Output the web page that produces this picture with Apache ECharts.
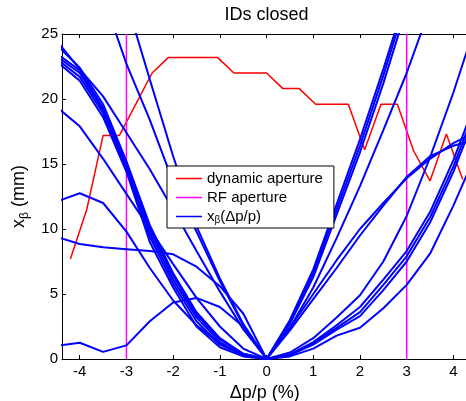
<!DOCTYPE html>
<html lang="en">
<head>
<meta charset="UTF-8">
<title>IDs closed</title>
<style>
    html, body {
        margin: 0;
        padding: 0;
        background: #fff;
    }
    #container {
        width: 466px;
        height: 401px;
    }
</style>
<script src="https://cdn.jsdelivr.net/npm/echarts@6/dist/echarts.min.js"></script>
</head>
<body>
<div id="container"></div>
<script type="text/javascript">
    // momentum deviation grids (%)
    var dpLeft = [-4.5, -4, -3.5, -3, -2.5, -2, -1.5, -1, -0.5, 0];
    var dpRight = [0, 0.5, 1, 1.5, 2, 2.5, 3, 3.5, 4, 4.5];

    // x_beta(dp/p) branches, negative side (mm)
    var leftG   = [24.5, 22.3, 20.2, 17.4, 14.6, 11.5, 8.3, 5.2, 2.3, 0];
    var leftU1  = [24.2, 22.4, 19.6, 15.2, 10.3, 6.6, 3.6, 1.6, 0.4, 0];
    var leftU2  = [23.5, 22.2, 19.3, 15.0, 10.0, 6.4, 3.4, 1.5, 0.4, 0];
    var leftU3  = [23.3, 22.0, 19.1, 14.8, 9.7, 6.1, 3.2, 1.3, 0.3, 0];
    var leftU4  = [23.1, 21.7, 18.9, 14.6, 9.4, 5.8, 2.9, 1.1, 0.3, 0];
    var leftU5  = [22.9, 21.4, 18.6, 14.4, 9.0, 5.5, 2.5, 0.9, 0.2, 0];
    var leftL1  = [38, 33, 27.9, 22.7, 18.4, 13.6, 9.8, 6.0, 2.6, 0];
    var leftL2  = [45, 39, 33, 27.5, 21.5, 15.6, 10.2, 6.2, 2.7, 0];
    var left19  = [19.4, 17.9, 15.4, 12.7, 10.0, 7.3, 4.7, 2.5, 0.8, 0];
    var left12  = [12.1, 12.75, 12.0, 9.8, 7.0, 4.5, 2.6, 1.2, 0.3, 0];
    var left9   = [9.4, 8.85, 8.6, 8.45, 8.3, 8.05, 7.1, 5.6, 3.5, 0];
    var leftLow = [1.0, 1.25, 0.55, 1.05, 2.9, 4.35, 4.7, 4.0, 2.5, 0];

    // x_beta(dp/p) branches, positive side (mm)
    var rightRa = [0, 3.0, 6.9, 11.9, 16.9, 22.3, 28.0, 34, 40, 46];
    var rightRb = [0, 2.9, 6.6, 11.5, 16.4, 21.8, 27.6, 33.5, 39.5, 45];
    var rightRc = [0, 2.7, 6.3, 11.1, 15.9, 21.2, 27.0, 33, 39, 44];
    var rightF  = [0, 2.4, 5.5, 9.3, 13.3, 17.6, 22.0, 27, 32, 37];
    var rightB1 = [0, 2.4, 5.0, 7.6, 10.0, 12.0, 13.9, 15.4, 16.6, 17.5];
    var rightB2 = [0, 2.2, 4.6, 7.0, 9.5, 11.8, 14.0, 15.6, 16.4, 16.9];
    var rightC  = [0, 0.5, 1.6, 3.2, 4.9, 7.5, 11.0, 15.5, 20.5, 26];
    var rightD1 = [0, 0.35, 1.3, 2.6, 4.0, 6.1, 8.3, 11.3, 15.3, 20];
    var rightD2 = [0, 0.3, 1.2, 2.4, 3.6, 5.7, 7.9, 10.9, 14.8, 19.5];
    var rightD3 = [0, 0.3, 1.1, 2.25, 3.3, 5.3, 7.5, 10.5, 14.4, 19.0];
    var rightE  = [0, 0.2, 0.8, 1.8, 2.4, 3.9, 5.7, 8.1, 11.8, 15.9];

    var leftCurves = [leftG, leftU1, leftU2, leftU3, leftU4, leftU5, leftL1, leftL2, left19, left12, left9, leftLow];
    var rightCurves = [rightRa, rightRb, rightRc, rightF, rightB1, rightB2, rightC, rightD1, rightD2, rightD3, rightE];

    // dynamic aperture
    var daX = [-4.2, -3.85, -3.5, -3.15, -2.8, -2.45, -2.1, -1.75, -1.4, -1.05, -0.7, -0.35, 0,
        0.35, 0.7, 1.05, 1.4, 1.75, 2.1, 2.45, 2.8, 3.15, 3.5, 3.85, 4.2];
    var daY = [7.7, 11.5, 17.2, 17.2, 19.6, 22.0, 23.2, 23.2, 23.2, 23.2, 22.0, 22.0, 22.0,
        20.8, 20.8, 19.6, 19.6, 19.6, 16.1, 19.6, 19.6, 16.0, 13.7, 17.3, 13.8];

    // RF aperture
    var rfX = [-3, 3];
    var rfY = [0, 25];

    var xTicks = [-4, -3, -2, -1, 0, 1, 2, 3, 4];

    var blueName = 'xβ(Δp/p)';
    var font = 'Liberation Sans, Arial, sans-serif';

    function pairs(xs, ys) {
        return xs.map(function (x, i) { return [x, ys[i]]; });
    }

    var series = [];
    series.push({
        name: 'dynamic aperture', type: 'line', data: pairs(daX, daY),
        symbol: 'none', color: '#ff0000', lineStyle: {width: 1.5, color: '#ff0000'}
    });
    rfX.forEach(function (x) {
        series.push({
            name: 'RF aperture', type: 'line', data: [[x, rfY[0]], [x, rfY[1]]],
            symbol: 'none', color: '#ff00ff', lineStyle: {width: 1.5, color: '#ff00ff'}
        });
    });
    leftCurves.forEach(function (c) {
        series.push({
            name: blueName, type: 'line', data: pairs(dpLeft, c),
            symbol: 'none', color: '#0000ff', lineStyle: {width: 2, color: '#0000ff'}
        });
    });
    rightCurves.forEach(function (c) {
        series.push({
            name: blueName, type: 'line', data: pairs(dpRight, c),
            symbol: 'none', color: '#0000ff', lineStyle: {width: 2, color: '#0000ff'}
        });
    });

    var chart = echarts.init(document.getElementById('container'));
    var option = {
        animation: false,
        backgroundColor: '#fff',
        textStyle: {fontFamily: font},
        graphic: [{
            type: 'text', x: 266.5, y: 15,
            style: {
                text: 'IDs closed', font: '18px ' + font, fill: '#000',
                textAlign: 'center', textVerticalAlign: 'middle'
            }
        }],
        grid: {left: 62, top: 34, width: 405.4, height: 325, outerBoundsMode: 'none'},
        legend: {
            data: ['dynamic aperture', 'RF aperture', blueName],
            orient: 'vertical', left: 167, top: 166,
            padding: [4, 11, 3, 9],
            itemGap: 2, itemWidth: 26, itemHeight: 1.5, icon: 'rect',
            backgroundColor: '#fff', borderColor: '#000', borderWidth: 1, borderRadius: 0,
            formatter: function (name) {
                if (name === blueName) {
                    return '{t|x}{s|β}{t|(Δp/p)}';
                }
                return '{t|' + name + '}';
            },
            textStyle: {
                color: '#000', fontSize: 15, lineHeight: 17, fontFamily: font,
                rich: {
                    t: {fontSize: 15, lineHeight: 17, fontFamily: font, color: '#000'},
                    s: {fontSize: 10, lineHeight: 10, verticalAlign: 'bottom', fontFamily: font, color: '#000'}
                }
            }
        },
        xAxis: [{
            type: 'value', min: -4.38, max: 4.3,
            name: 'Δp/p (%)', nameLocation: 'middle', nameGap: 22,
            nameTextStyle: {fontSize: 18, color: '#000', fontFamily: font},
            axisLine: {show: true, onZero: false, lineStyle: {color: '#000', width: 1}},
            axisTick: {show: true, inside: true, length: 4, customValues: xTicks, lineStyle: {color: '#000'}},
            axisLabel: {show: true, customValues: xTicks, fontSize: 15, color: '#000', margin: 5, fontFamily: font},
            splitLine: {show: false}
        }, {
            type: 'value', min: -4.38, max: 4.3, position: 'top',
            axisLine: {show: true, onZero: false, lineStyle: {color: '#000', width: 1}},
            axisTick: {show: true, inside: true, length: 4, customValues: xTicks, lineStyle: {color: '#000'}},
            axisLabel: {show: false},
            splitLine: {show: false}
        }],
        yAxis: {
            type: 'value', min: 0, max: 25, interval: 5,
            name: '{t|x}{s|β}{t| (mm)}', nameLocation: 'middle', nameGap: 30, nameRotate: 90,
            nameTextStyle: {
                color: '#000', fontFamily: font,
                rich: {
                    t: {fontSize: 18, lineHeight: 22, fontFamily: font, color: '#000'},
                    s: {fontSize: 12, lineHeight: 12, verticalAlign: 'bottom', fontFamily: font, color: '#000'}
                }
            },
            axisLine: {show: true, onZero: false, lineStyle: {color: '#000', width: 1}},
            axisTick: {show: true, inside: true, length: 4, lineStyle: {color: '#000'}},
            axisLabel: {fontSize: 15, color: '#000', margin: 4, fontFamily: font},
            splitLine: {show: false}
        },
        series: series
    };
    chart.setOption(option);
</script>
</body>
</html>
